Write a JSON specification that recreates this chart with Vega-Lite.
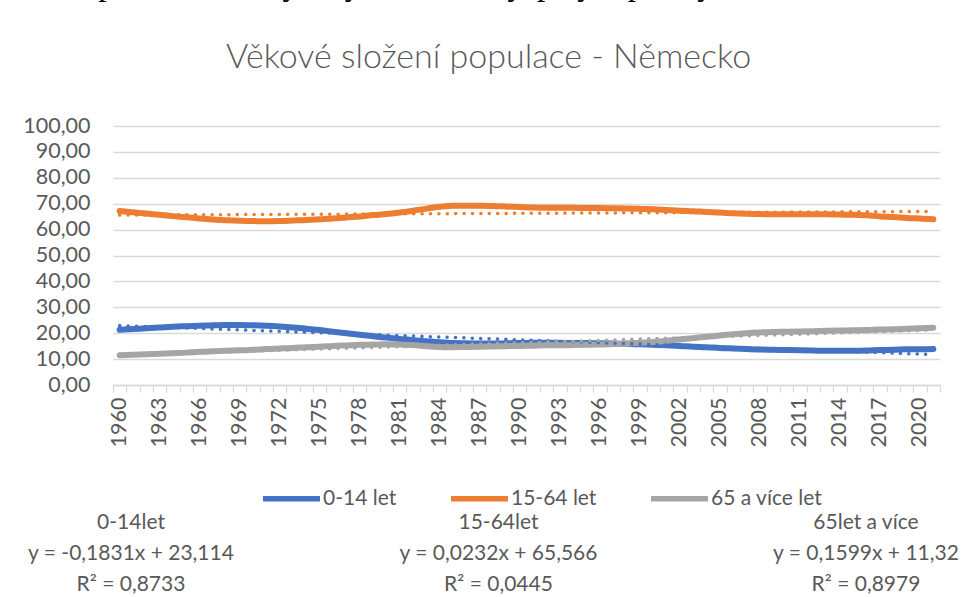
{
  "$schema": "https://vega.github.io/schema/vega-lite/v6.json",
  "width": 827,
  "height": 259,
  "autosize": {"type": "none"},
  "padding": {"left": 113, "top": 126, "right": 22, "bottom": 212},
  "background": "white",
  "title": {
    "text": "Evropě a světě, s vysokým HDP a vyspělým průmyslem. Jiná, ačkoli",
    "subtitle": "Věkové složení populace - Německo",
    "anchor": "middle",
    "dx": -38,
    "offset": 40,
    "font": "Liberation Serif",
    "fontSize": 33,
    "fontWeight": "normal",
    "color": "#000000",
    "subtitleFont": "Lato",
    "subtitleFontSize": 34,
    "subtitleFontWeight": 300,
    "subtitleColor": "#595959",
    "subtitlePadding": 39
  },
  "config": {
    "view": {"stroke": null},
    "axisY": {
      "tickCount": 11,
      "labelExpr": "replace(format(datum.value, '.2f'), '.', ',')",
      "labelOverlap": false, "labelFlush": false,
      "grid": true, "gridColor": "#D9D9D9", "gridWidth": 1.3,
      "domain": false, "ticks": false,
      "labelFont": "Lato", "labelFontSize": 21.5, "labelColor": "#595959", "labelPadding": 23
    }
  },
  "datasets": {
    "pop": [
      {"year": "1960", "series": "0-14 let", "value": 21.3}, {"year": "1961", "series": "0-14 let", "value": 21.6}, {"year": "1962", "series": "0-14 let", "value": 21.9}, {"year": "1963", "series": "0-14 let", "value": 22.2}, {"year": "1964", "series": "0-14 let", "value": 22.5}, {"year": "1965", "series": "0-14 let", "value": 22.7}, {"year": "1966", "series": "0-14 let", "value": 22.9}, {"year": "1967", "series": "0-14 let", "value": 23.1}, {"year": "1968", "series": "0-14 let", "value": 23.2}, {"year": "1969", "series": "0-14 let", "value": 23.2},
      {"year": "1970", "series": "0-14 let", "value": 23.1}, {"year": "1971", "series": "0-14 let", "value": 22.9}, {"year": "1972", "series": "0-14 let", "value": 22.6}, {"year": "1973", "series": "0-14 let", "value": 22.2}, {"year": "1974", "series": "0-14 let", "value": 21.7}, {"year": "1975", "series": "0-14 let", "value": 21.2}, {"year": "1976", "series": "0-14 let", "value": 20.6}, {"year": "1977", "series": "0-14 let", "value": 20.0}, {"year": "1978", "series": "0-14 let", "value": 19.4}, {"year": "1979", "series": "0-14 let", "value": 18.8},
      {"year": "1980", "series": "0-14 let", "value": 18.3}, {"year": "1981", "series": "0-14 let", "value": 17.8}, {"year": "1982", "series": "0-14 let", "value": 17.3}, {"year": "1983", "series": "0-14 let", "value": 16.9}, {"year": "1984", "series": "0-14 let", "value": 16.5}, {"year": "1985", "series": "0-14 let", "value": 16.2}, {"year": "1986", "series": "0-14 let", "value": 16.1}, {"year": "1987", "series": "0-14 let", "value": 16.0}, {"year": "1988", "series": "0-14 let", "value": 16.0}, {"year": "1989", "series": "0-14 let", "value": 16.1},
      {"year": "1990", "series": "0-14 let", "value": 16.2}, {"year": "1991", "series": "0-14 let", "value": 16.3}, {"year": "1992", "series": "0-14 let", "value": 16.3}, {"year": "1993", "series": "0-14 let", "value": 16.3}, {"year": "1994", "series": "0-14 let", "value": 16.2}, {"year": "1995", "series": "0-14 let", "value": 16.2}, {"year": "1996", "series": "0-14 let", "value": 16.1}, {"year": "1997", "series": "0-14 let", "value": 16.0}, {"year": "1998", "series": "0-14 let", "value": 15.9}, {"year": "1999", "series": "0-14 let", "value": 15.7},
      {"year": "2000", "series": "0-14 let", "value": 15.5}, {"year": "2001", "series": "0-14 let", "value": 15.3}, {"year": "2002", "series": "0-14 let", "value": 15.1}, {"year": "2003", "series": "0-14 let", "value": 14.8}, {"year": "2004", "series": "0-14 let", "value": 14.6}, {"year": "2005", "series": "0-14 let", "value": 14.3}, {"year": "2006", "series": "0-14 let", "value": 14.1}, {"year": "2007", "series": "0-14 let", "value": 13.9}, {"year": "2008", "series": "0-14 let", "value": 13.7}, {"year": "2009", "series": "0-14 let", "value": 13.6},
      {"year": "2010", "series": "0-14 let", "value": 13.5}, {"year": "2011", "series": "0-14 let", "value": 13.4}, {"year": "2012", "series": "0-14 let", "value": 13.3}, {"year": "2013", "series": "0-14 let", "value": 13.2}, {"year": "2014", "series": "0-14 let", "value": 13.2}, {"year": "2015", "series": "0-14 let", "value": 13.2}, {"year": "2016", "series": "0-14 let", "value": 13.3}, {"year": "2017", "series": "0-14 let", "value": 13.5}, {"year": "2018", "series": "0-14 let", "value": 13.6}, {"year": "2019", "series": "0-14 let", "value": 13.8}, {"year": "2020", "series": "0-14 let", "value": 13.8}, {"year": "2021", "series": "0-14 let", "value": 13.9},

      {"year": "1960", "series": "15-64 let", "value": 67.2}, {"year": "1961", "series": "15-64 let", "value": 66.7}, {"year": "1962", "series": "15-64 let", "value": 66.2}, {"year": "1963", "series": "15-64 let", "value": 65.7}, {"year": "1964", "series": "15-64 let", "value": 65.2}, {"year": "1965", "series": "15-64 let", "value": 64.8}, {"year": "1966", "series": "15-64 let", "value": 64.3}, {"year": "1967", "series": "15-64 let", "value": 63.9}, {"year": "1968", "series": "15-64 let", "value": 63.6}, {"year": "1969", "series": "15-64 let", "value": 63.4},
      {"year": "1970", "series": "15-64 let", "value": 63.3}, {"year": "1971", "series": "15-64 let", "value": 63.2}, {"year": "1972", "series": "15-64 let", "value": 63.3}, {"year": "1973", "series": "15-64 let", "value": 63.5}, {"year": "1974", "series": "15-64 let", "value": 63.7}, {"year": "1975", "series": "15-64 let", "value": 64.0}, {"year": "1976", "series": "15-64 let", "value": 64.3}, {"year": "1977", "series": "15-64 let", "value": 64.7}, {"year": "1978", "series": "15-64 let", "value": 65.1}, {"year": "1979", "series": "15-64 let", "value": 65.6},
      {"year": "1980", "series": "15-64 let", "value": 66.0}, {"year": "1981", "series": "15-64 let", "value": 66.6}, {"year": "1982", "series": "15-64 let", "value": 67.3}, {"year": "1983", "series": "15-64 let", "value": 68.1}, {"year": "1984", "series": "15-64 let", "value": 68.8}, {"year": "1985", "series": "15-64 let", "value": 69.2}, {"year": "1986", "series": "15-64 let", "value": 69.2}, {"year": "1987", "series": "15-64 let", "value": 69.2}, {"year": "1988", "series": "15-64 let", "value": 69.1}, {"year": "1989", "series": "15-64 let", "value": 68.9},
      {"year": "1990", "series": "15-64 let", "value": 68.7}, {"year": "1991", "series": "15-64 let", "value": 68.5}, {"year": "1992", "series": "15-64 let", "value": 68.4}, {"year": "1993", "series": "15-64 let", "value": 68.4}, {"year": "1994", "series": "15-64 let", "value": 68.4}, {"year": "1995", "series": "15-64 let", "value": 68.3}, {"year": "1996", "series": "15-64 let", "value": 68.3}, {"year": "1997", "series": "15-64 let", "value": 68.2}, {"year": "1998", "series": "15-64 let", "value": 68.1}, {"year": "1999", "series": "15-64 let", "value": 68.0},
      {"year": "2000", "series": "15-64 let", "value": 67.9}, {"year": "2001", "series": "15-64 let", "value": 67.6}, {"year": "2002", "series": "15-64 let", "value": 67.3}, {"year": "2003", "series": "15-64 let", "value": 67.1}, {"year": "2004", "series": "15-64 let", "value": 66.8}, {"year": "2005", "series": "15-64 let", "value": 66.6}, {"year": "2006", "series": "15-64 let", "value": 66.3}, {"year": "2007", "series": "15-64 let", "value": 66.1}, {"year": "2008", "series": "15-64 let", "value": 66.0}, {"year": "2009", "series": "15-64 let", "value": 65.9},
      {"year": "2010", "series": "15-64 let", "value": 65.9}, {"year": "2011", "series": "15-64 let", "value": 65.9}, {"year": "2012", "series": "15-64 let", "value": 65.9}, {"year": "2013", "series": "15-64 let", "value": 65.9}, {"year": "2014", "series": "15-64 let", "value": 65.8}, {"year": "2015", "series": "15-64 let", "value": 65.7}, {"year": "2016", "series": "15-64 let", "value": 65.5}, {"year": "2017", "series": "15-64 let", "value": 65.1}, {"year": "2018", "series": "15-64 let", "value": 64.9}, {"year": "2019", "series": "15-64 let", "value": 64.5}, {"year": "2020", "series": "15-64 let", "value": 64.3}, {"year": "2021", "series": "15-64 let", "value": 64.0},

      {"year": "1960", "series": "65 a více let", "value": 11.5}, {"year": "1961", "series": "65 a více let", "value": 11.7}, {"year": "1962", "series": "65 a více let", "value": 11.9}, {"year": "1963", "series": "65 a více let", "value": 12.1}, {"year": "1964", "series": "65 a více let", "value": 12.3}, {"year": "1965", "series": "65 a více let", "value": 12.5}, {"year": "1966", "series": "65 a více let", "value": 12.8}, {"year": "1967", "series": "65 a více let", "value": 13.0}, {"year": "1968", "series": "65 a více let", "value": 13.2}, {"year": "1969", "series": "65 a více let", "value": 13.4},
      {"year": "1970", "series": "65 a více let", "value": 13.6}, {"year": "1971", "series": "65 a více let", "value": 13.9}, {"year": "1972", "series": "65 a více let", "value": 14.1}, {"year": "1973", "series": "65 a více let", "value": 14.3}, {"year": "1974", "series": "65 a více let", "value": 14.6}, {"year": "1975", "series": "65 a více let", "value": 14.8}, {"year": "1976", "series": "65 a více let", "value": 15.1}, {"year": "1977", "series": "65 a více let", "value": 15.3}, {"year": "1978", "series": "65 a více let", "value": 15.5}, {"year": "1979", "series": "65 a více let", "value": 15.6},
      {"year": "1980", "series": "65 a více let", "value": 15.7}, {"year": "1981", "series": "65 a více let", "value": 15.6}, {"year": "1982", "series": "65 a více let", "value": 15.4}, {"year": "1983", "series": "65 a více let", "value": 15.0}, {"year": "1984", "series": "65 a více let", "value": 14.7}, {"year": "1985", "series": "65 a více let", "value": 14.6}, {"year": "1986", "series": "65 a více let", "value": 14.7}, {"year": "1987", "series": "65 a více let", "value": 14.8}, {"year": "1988", "series": "65 a více let", "value": 14.9}, {"year": "1989", "series": "65 a více let", "value": 15.0},
      {"year": "1990", "series": "65 a více let", "value": 15.1}, {"year": "1991", "series": "65 a více let", "value": 15.2}, {"year": "1992", "series": "65 a více let", "value": 15.3}, {"year": "1993", "series": "65 a více let", "value": 15.3}, {"year": "1994", "series": "65 a více let", "value": 15.4}, {"year": "1995", "series": "65 a více let", "value": 15.5}, {"year": "1996", "series": "65 a více let", "value": 15.6}, {"year": "1997", "series": "65 a více let", "value": 15.8}, {"year": "1998", "series": "65 a více let", "value": 16.0}, {"year": "1999", "series": "65 a více let", "value": 16.3},
      {"year": "2000", "series": "65 a více let", "value": 16.6}, {"year": "2001", "series": "65 a více let", "value": 17.1}, {"year": "2002", "series": "65 a více let", "value": 17.6}, {"year": "2003", "series": "65 a více let", "value": 18.1}, {"year": "2004", "series": "65 a více let", "value": 18.6}, {"year": "2005", "series": "65 a více let", "value": 19.1}, {"year": "2006", "series": "65 a více let", "value": 19.6}, {"year": "2007", "series": "65 a více let", "value": 20.0}, {"year": "2008", "series": "65 a více let", "value": 20.3}, {"year": "2009", "series": "65 a více let", "value": 20.5},
      {"year": "2010", "series": "65 a více let", "value": 20.6}, {"year": "2011", "series": "65 a více let", "value": 20.7}, {"year": "2012", "series": "65 a více let", "value": 20.8}, {"year": "2013", "series": "65 a více let", "value": 20.9}, {"year": "2014", "series": "65 a více let", "value": 21.0}, {"year": "2015", "series": "65 a více let", "value": 21.1}, {"year": "2016", "series": "65 a více let", "value": 21.2}, {"year": "2017", "series": "65 a více let", "value": 21.4}, {"year": "2018", "series": "65 a více let", "value": 21.5}, {"year": "2019", "series": "65 a více let", "value": 21.7}, {"year": "2020", "series": "65 a více let", "value": 21.9}, {"year": "2021", "series": "65 a více let", "value": 22.1}
    ],
    "trend": [
      {"year": "1960", "series": "0-14 let", "value": 22.931}, {"year": "2021", "series": "0-14 let", "value": 11.762},
      {"year": "1960", "series": "15-64 let", "value": 65.589}, {"year": "2021", "series": "15-64 let", "value": 67.004},
      {"year": "1960", "series": "65 a více let", "value": 11.480}, {"year": "2021", "series": "65 a více let", "value": 21.234}
    ],
    "eq": [
      {"grp": "0-14 let", "line": 1, "text": "0-14let"}, {"grp": "0-14 let", "line": 2, "text": "y = -0,1831x + 23,114"}, {"grp": "0-14 let", "line": 3, "text": "R² = 0,8733"},
      {"grp": "15-64 let", "line": 1, "text": "15-64let"}, {"grp": "15-64 let", "line": 2, "text": "y = 0,0232x + 65,566"}, {"grp": "15-64 let", "line": 3, "text": "R² = 0,0445"},
      {"grp": "65 a více let", "line": 1, "text": "65let a více"}, {"grp": "65 a více let", "line": 2, "text": "y = 0,1599x + 11,32"}, {"grp": "65 a více let", "line": 3, "text": "R² = 0,8979"}
    ]
  },
  "layer": [
    {
      "layer": [
        {
          "data": {"name": "pop"},
          "mark": {"type": "line", "strokeWidth": 6, "strokeCap": "round", "strokeJoin": "round", "interpolate": "monotone"},
          "encoding": {
            "x": {
              "field": "year", "type": "ordinal",
              "scale": {"type": "band", "paddingInner": 0, "paddingOuter": 0},
              "axis": {
                "title": null, "labelAngle": -90, "labelOverlap": false,
                "labelExpr": "(toNumber(datum.value) - 1960) % 3 === 0 ? datum.value : ''",
                "tickBand": "extent", "ticks": true, "tickSize": 7, "tickColor": "#D9D9D9", "tickWidth": 1.3,
                "domainColor": "#D9D9D9", "domainWidth": 1.3, "grid": false,
                "labelFont": "Lato", "labelFontSize": 21.5, "labelColor": "#595959", "labelPadding": 5
              }
            },
            "y": {
              "field": "value", "type": "quantitative",
              "scale": {"domain": [0, 100], "nice": false},
              "axis": {"title": null, "values": [0, 10, 20, 30, 40, 50, 60, 70, 80, 90, 100], "tickCount": 11}
            },
            "color": {
              "field": "series", "type": "nominal",
              "scale": {"domain": ["0-14 let", "15-64 let", "65 a více let"], "range": ["#4472C4", "#ED7D31", "#A5A5A5"]},
              "legend": {
                "orient": "none", "legendX": 147, "legendY": 341, "direction": "horizontal", "title": null,
                "symbolType": "stroke", "symbolSize": 3249, "symbolStrokeWidth": 5.5,
                "labelFont": "Lato", "labelFontSize": 21, "labelColor": "#595959", "labelOffset": 0, "columnPadding": 43
              }
            }
          }
        },
        {
          "data": {"name": "trend"},
          "mark": {"type": "line", "strokeWidth": 3.5, "strokeCap": "round", "strokeDash": [0.1, 8.3]},
          "encoding": {
            "x": {"field": "year", "type": "ordinal"},
            "y": {"field": "value", "type": "quantitative", "axis": {"title": null, "values": [0, 10, 20, 30, 40, 50, 60, 70, 80, 90, 100], "tickCount": 11}},
            "stroke": {
              "field": "series", "type": "nominal",
              "scale": {"domain": ["0-14 let", "15-64 let", "65 a více let"], "range": ["#4472C4", "#ED7D31", "#A5A5A5"]},
              "legend": null
            }
          }
        }
      ]
    },
    {
      "data": {"name": "eq"},
      "mark": {"type": "text", "font": "Lato", "fontSize": 21, "color": "#595959", "align": "center", "baseline": "middle"},
      "encoding": {
        "x": {"field": "grp", "type": "nominal", "sort": ["0-14 let", "15-64 let", "65 a více let"], "scale": {"type": "point", "range": [18, 753], "padding": 0}, "axis": null},
        "y": {"field": "line", "type": "ordinal", "scale": {"type": "point", "range": [397, 459], "padding": 0}, "axis": null},
        "text": {"field": "text"}
      }
    }
  ],
  "resolve": {"scale": {"x": "independent", "y": "independent"}}
}
